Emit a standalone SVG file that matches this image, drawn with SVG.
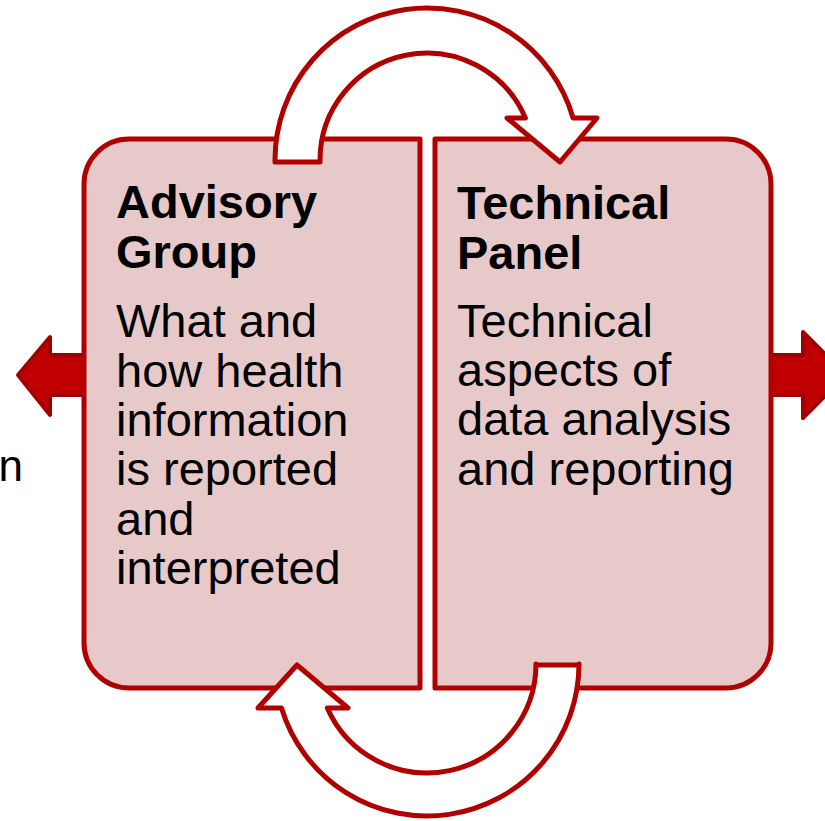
<svg xmlns="http://www.w3.org/2000/svg" width="825" height="821" viewBox="0 0 825 821">
  <style>
    .panel { fill: #E7C9CA; stroke: #B00000; stroke-width: 5; stroke-linejoin: round; }
    .cycle { fill: #FFFFFF; stroke: #B00000; stroke-width: 5; stroke-linejoin: round; }
    .side { fill: #C00000; stroke: #A00000; stroke-width: 4; stroke-linejoin: round; }
    text { font-family: "Liberation Sans", Arial, sans-serif; font-size: 47px; fill: #000000; }
    .title { font-weight: bold; }
  </style>
  <rect width="825" height="821" fill="#FFFFFF"/>

  <!-- outward arrows behind the panels -->
  <g id="connectors-side">
    <polygon class="side" points="18,375 50,337 50,355 84,355 84,395 50,395 50,415"/>
    <polygon class="side" points="771,355 803,355 803,332 846,375 803,418 803,395 771,395"/>
  </g>

  <text x="23" y="481" text-anchor="end" style="font-size:44px">n</text>

  <g id="advisory-group">
    <path class="panel" d="M420,139 L129,139 A45,45 0 0 0 84,184 L84,643 A45,45 0 0 0 129,688 L420,688 Z"/>
    <text class="title" x="116" y="218">Advisory</text>
    <text class="title" x="116" y="268">Group</text>
    <text x="116" y="337">What and</text>
    <text x="116" y="387">how health</text>
    <text x="116" y="436">information</text>
    <text x="116" y="485">is reported</text>
    <text x="116" y="535">and</text>
    <text x="116" y="584">interpreted</text>
  </g>

  <g id="technical-panel">
    <path class="panel" d="M435,139 L726,139 A45,45 0 0 1 771,184 L771,643 A45,45 0 0 1 726,688 L435,688 Z"/>
    <text class="title" x="457" y="219">Technical</text>
    <text class="title" x="457" y="269">Panel</text>
    <text x="457" y="337">Technical</text>
    <text x="457" y="386">aspects of</text>
    <text x="457" y="435">data analysis</text>
    <text x="457" y="485">and reporting</text>
  </g>

  <!-- circular arrows linking the two panels -->
  <g id="connectors">
    <path class="cycle" d="M275,162 L275,160 A152,152 0 0 1 573.1,118 L597,118 L560,162 L507,118 L525.4,118 A107,107 0 0 0 320,160 L320,162 Z"/>
    <path class="cycle" d="M579,665 L579,664 A152,152 0 0 1 281.5,708 L258,708 L297,665 L348,708 L327.3,708 A109,109 0 0 0 536,664 L536,665 Z"/>
  </g>
</svg>
